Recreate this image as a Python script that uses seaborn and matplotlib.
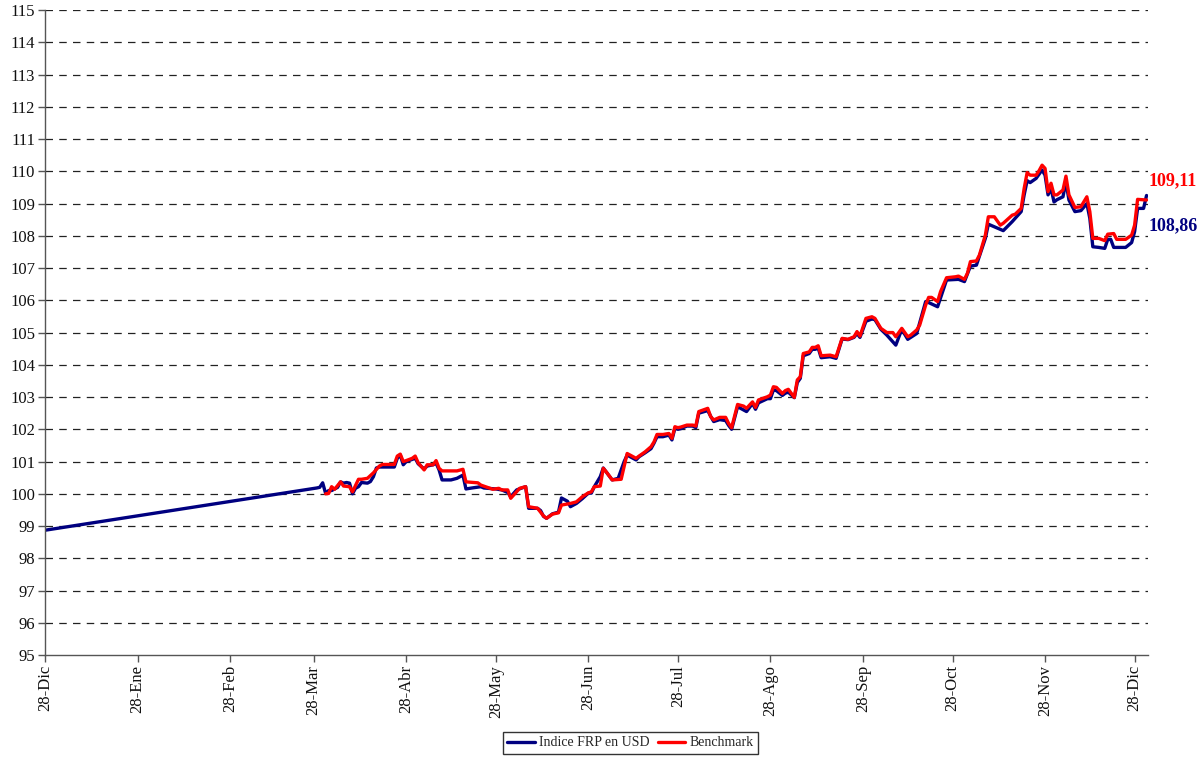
import pandas as pd
import seaborn as sns
import matplotlib.pyplot as plt

# datos (dias desde 28-Dic)
start = pd.Timestamp("2006-12-28")

idx_days = [0, 91, 92, 93, 94, 95, 96, 98, 99, 100, 101, 102, 103, 104, 105, 106, 108, 109,
            110, 111, 112, 114, 117, 118, 119, 120, 121, 124, 125, 127, 128, 130, 131, 132,
            133, 136, 138, 140, 141, 143, 146, 147, 151, 153, 155, 156, 158, 160, 161, 162,
            165, 166, 167, 168, 170, 172, 173, 175, 176, 178, 180, 182, 183, 184, 186, 187,
            190, 192, 194, 195, 198, 199, 201, 203, 204, 205, 207, 209, 210, 211, 212, 213,
            215, 217, 218, 219, 222, 223, 224, 226, 228, 229, 230, 232, 234, 235, 237, 238,
            239, 242, 243, 244, 245, 247, 248, 249, 251, 252, 253, 254, 256, 257, 258, 259,
            260, 263, 265, 267, 269, 271, 272, 273, 275, 277, 278, 280, 282, 285, 287, 289,
            292, 295, 296, 299, 302, 306, 308, 310, 312, 315, 316, 320, 321, 324, 327, 328,
            329, 330, 332, 333, 334, 335, 336, 337, 338, 339, 341, 342, 343, 345, 347, 349,
            350, 351, 353, 355, 356, 357, 358, 362, 364, 365, 366, 368, 369]
idx_vals = [98.87, 100.18, 100.2, 100.34, 100.01, 100.1, 100.1, 100.2, 100.37, 100.33, 100.35,
            100.33, 100.0, 100.17, 100.22, 100.35, 100.33, 100.38, 100.53, 100.8, 100.83,
            100.83, 100.83, 101.1, 101.2, 100.9, 101.0, 101.1, 100.93, 100.77, 100.86, 100.9,
            100.95, 100.74, 100.43, 100.43, 100.48, 100.58, 100.15, 100.18, 100.22, 100.18,
            100.15, 100.12, 100.04, 99.91, 100.12, 100.19, 100.22, 99.55, 99.55, 99.48, 99.3,
            99.24, 99.38, 99.43, 99.87, 99.77, 99.6, 99.7, 99.85, 100.02, 100.02, 100.22,
            100.53, 100.8, 100.43, 100.48, 101.0, 101.2, 101.05, 101.15, 101.27, 101.4,
            101.57, 101.77, 101.77, 101.82, 101.67, 102.03, 102.0, 102.02, 102.1, 102.1,
            102.05, 102.5, 102.58, 102.4, 102.24, 102.3, 102.27, 102.12, 102.0, 102.7, 102.6,
            102.55, 102.8, 102.62, 102.82, 102.95, 102.95, 103.22, 103.2, 103.05, 103.12,
            103.15, 102.98, 103.45, 103.58, 104.28, 104.35, 104.48, 104.48, 104.52, 104.22,
            104.25, 104.2, 104.8, 104.78, 104.85, 104.97, 104.85, 105.35, 105.42, 105.4,
            105.1, 104.92, 104.61, 105.1, 104.79, 104.97, 105.96, 105.93, 105.8, 106.63,
            106.65, 106.58, 107.06, 107.09, 107.92, 108.36, 108.2, 108.16, 108.44, 108.75,
            109.27, 109.71, 109.65, 109.78, 109.91, 110.04, 109.88, 109.27, 109.47, 109.05,
            109.12, 109.21, 109.68, 109.11, 108.75, 108.78, 109.0, 108.54, 107.66, 107.64,
            107.61, 107.89, 107.89, 107.64, 107.64, 107.79, 108.13, 108.85, 108.85, 109.25]

bm_days = [94, 95, 96, 97, 99, 100, 102, 103, 105, 106, 108, 110, 112, 113, 117, 118, 119, 120,
           121, 123, 124, 125, 127, 128, 130, 131, 132, 133, 138, 140, 141, 145, 146, 150, 152,
           153, 155, 156, 159, 161, 162, 165, 167, 168, 170, 172, 173, 176, 178, 180, 182, 183,
           184, 186, 187, 188, 190, 193, 195, 198, 199, 201, 203, 204, 205, 207, 209, 210, 211,
           212, 213, 215, 217, 218, 219, 222, 223, 224, 226, 228, 229, 230, 232, 234, 235, 237,
           238, 239, 242, 243, 244, 245, 247, 248, 249, 251, 252, 253, 254, 256, 257, 258, 259,
           260, 263, 265, 267, 269, 271, 272, 273, 275, 277, 278, 280, 282, 284, 285, 287, 289,
           290, 292, 293, 295, 296, 297, 299, 300, 302, 305, 306, 308, 309, 310, 312, 313, 315,
           316, 318, 320, 321, 324, 325, 327, 328, 329, 330, 332, 333, 334, 335, 336, 337, 338,
           339, 341, 342, 343, 345, 347, 349, 350, 351, 353, 355, 356, 358, 359, 362, 364, 365,
           366, 369]
bm_vals = [100.0, 100.01, 100.22, 100.14, 100.37, 100.24, 100.22, 100.06, 100.45, 100.45,
           100.48, 100.65, 100.86, 100.91, 100.91, 101.17, 101.23, 101.0, 101.03, 101.1,
           101.17, 100.96, 100.74, 100.9, 100.9, 101.03, 100.79, 100.71, 100.71, 100.76,
           100.37, 100.34, 100.27, 100.14, 100.17, 100.12, 100.12, 99.86, 100.17, 100.22,
           99.6, 99.55, 99.31, 99.24, 99.37, 99.41, 99.65, 99.7, 99.75, 99.91, 100.03, 100.06,
           100.22, 100.24, 100.79, 100.68, 100.43, 100.45, 101.25, 101.1, 101.17, 101.3,
           101.46, 101.61, 101.84, 101.84, 101.87, 101.72, 102.08, 102.05, 102.07, 102.13,
           102.13, 102.1, 102.55, 102.65, 102.39, 102.29, 102.37, 102.37, 102.18, 102.05,
           102.77, 102.72, 102.65, 102.85, 102.68, 102.91, 103.01, 103.06, 103.32, 103.3,
           103.11, 103.2, 103.24, 102.99, 103.53, 103.63, 104.35, 104.4, 104.54, 104.54,
           104.59, 104.28, 104.3, 104.25, 104.82, 104.79, 104.87, 105.03, 104.89, 105.44,
           105.49, 105.44, 105.13, 105.0, 105.0, 104.87, 105.13, 104.87, 104.92, 105.08,
           105.23, 105.85, 106.09, 106.09, 105.96, 106.27, 106.7, 106.73, 106.75, 106.65,
           106.84, 107.2, 107.22, 107.4, 108.02, 108.59, 108.59, 108.33, 108.39, 108.64,
           108.67, 108.85, 109.47, 109.96, 109.88, 109.88, 110.02, 110.19, 110.09, 109.37,
           109.63, 109.27, 109.27, 109.42, 109.85, 109.27, 108.88, 108.9, 109.21, 108.75,
           107.92, 107.92, 107.85, 108.05, 108.07, 107.89, 107.89, 108.02, 108.33, 109.13,
           109.11]

month_labels = ["28-Dic", "28-Ene", "28-Feb", "28-Mar", "28-Abr", "28-May", "28-Jun",
                "28-Jul", "28-Ago", "28-Sep", "28-Oct", "28-Nov", "28-Dic"]
series_names = ["Indice FRP en USD", "Benchmark"]
end_labels = ["108,86", "109,11"]


def main():
    sns.set_style("white")
    plt.rcParams["font.family"] = ["Liberation Serif", "DejaVu Serif"]

    idx = pd.DataFrame({"fecha": start + pd.to_timedelta(idx_days, unit="D"),
                        "valor": idx_vals, "serie": series_names[0]})
    bm = pd.DataFrame({"fecha": start + pd.to_timedelta(bm_days, unit="D"),
                       "valor": bm_vals, "serie": series_names[1]})
    df = pd.concat([idx, bm], ignore_index=True)

    fig = plt.figure(figsize=(11.98, 7.57), dpi=100)
    ax = fig.add_axes([0.0376, 0.1347, 0.9207, 0.852])

    colors = {series_names[0]: "#000080", series_names[1]: "#ff0000"}
    sns.lineplot(data=df, x="fecha", y="valor", hue="serie", palette=colors,
                 linewidth=2.4, ax=ax, legend=False, sort=False, estimator=None)

    ax.set_ylim(95, 115)
    ax.set_yticks(range(95, 116))
    ax.set_xlim(start, start + pd.Timedelta(days=369.5))
    ticks = [start + pd.DateOffset(months=i) for i in range(13)]
    ax.set_xticks(ticks)
    ax.set_xticklabels(month_labels, rotation=90)
    ax.set_xlabel("")
    ax.set_ylabel("")
    ax.tick_params(axis="both", labelsize=12, direction="out", length=5, width=1,
                   color="#555555", labelcolor="#111111", pad=2, left=True, bottom=True)

    for y in range(96, 116):
        ax.axhline(y, color="#222222", linestyle=(0, (6, 5)), linewidth=0.9, zorder=0)

    for s in ["top", "right"]:
        ax.spines[s].set_visible(False)
    for s in ["left", "bottom"]:
        ax.spines[s].set_color("#555555")
        ax.spines[s].set_linewidth(1)

    ax.text(1.0, 1 - (181 - 10) / 645, end_labels[1], transform=ax.transAxes,
            color="#ff0000", fontsize=13, fontweight="bold", va="center", ha="left")
    ax.text(1.0, 1 - (226 - 10) / 645, end_labels[0], transform=ax.transAxes,
            color="#000080", fontsize=13, fontweight="bold", va="center", ha="left")

    handles = [plt.Line2D([], [], color=colors[n], linewidth=2.4) for n in series_names]
    leg = fig.legend(handles, series_names, loc="center", bbox_to_anchor=(0.526, 0.0185),
                     ncol=2, fontsize=10, frameon=True, fancybox=False, handlelength=2.0,
                     handletextpad=0.3, columnspacing=0.6, borderpad=0.3)
    leg.get_frame().set_edgecolor("black")
    leg.get_frame().set_linewidth(1)

    fig.savefig("out.png", dpi=100)


if __name__ == "__main__":
    main()
